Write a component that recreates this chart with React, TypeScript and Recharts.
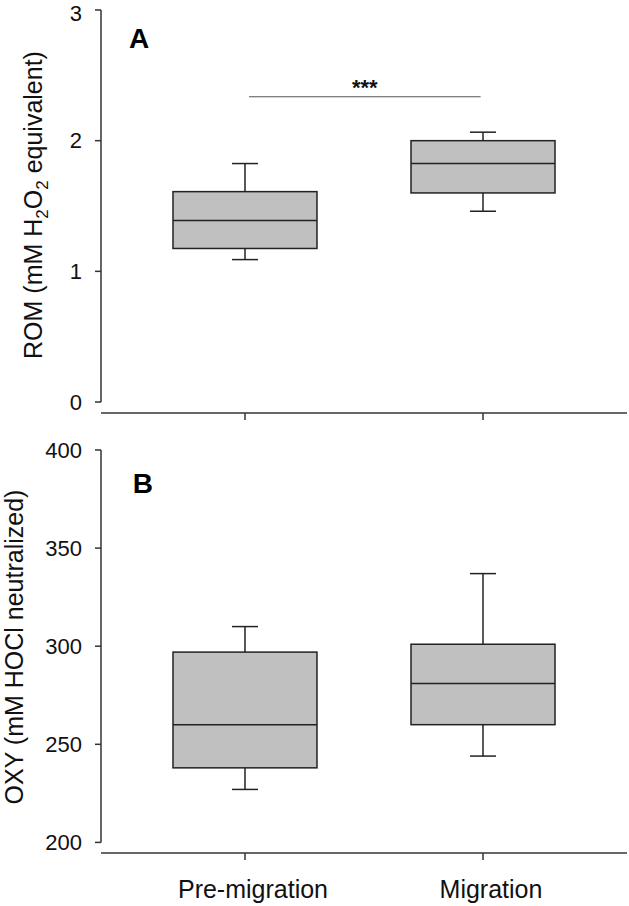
import { ComposedChart, Bar, XAxis, YAxis, ReferenceLine, ReferenceDot, Label } from "recharts"

// groups on a numeric x axis so the y-axis line can be drawn as a segment
const groups = ["Pre-migration", "Migration"]
const positions = [1, 2]
const xDomain: [number, number] = [0.395, 2.605]

// panel A: ROM
const romMin = [1.09, 1.46]
const romQ1 = [1.175, 1.6]
const romMedian = [1.39, 1.825]
const romQ3 = [1.61, 2.0]
const romMax = [1.825, 2.065]
const romTicks = [0, 1, 2, 3]

// panel B: OXY
const oxyMin = [227, 244]
const oxyQ1 = [238, 260]
const oxyMedian = [260, 281]
const oxyQ3 = [297, 301]
const oxyMax = [310, 337]
const oxyTicks = [200, 250, 300, 350, 400]

const sigLevel = 2.336

const AXIS = "#333"
const FONT = "'Liberation Sans', Arial, sans-serif"

function buildRows(min: number[], q1: number[], med: number[], q3: number[], max: number[]) {
  return groups.map((g, i) => ({
    pos: positions[i],
    name: g,
    range: [min[i], max[i]],
    q1: q1[i],
    median: med[i],
    q3: q3[i],
  }))
}

const romData = buildRows(romMin, romQ1, romMedian, romQ3, romMax)
const oxyData = buildRows(oxyMin, oxyQ1, oxyMedian, oxyQ3, oxyMax)

const BoxShape = (props: any) => {
  const { x, y, width, height, payload } = props
  const [lo, hi] = payload.range
  const yHi = y
  const yLo = y + height
  const toY = (v: number) => yLo + ((v - lo) / (hi - lo)) * (yHi - yLo)
  const cx = x + width / 2
  const half = 72
  const cap = 13
  const stroke = "#222"
  return (
    <g>
      <line x1={cx} x2={cx} y1={toY(hi)} y2={toY(payload.q3)} stroke={stroke} strokeWidth={1.5} />
      <line x1={cx} x2={cx} y1={toY(payload.q1)} y2={toY(lo)} stroke={stroke} strokeWidth={1.5} />
      <line x1={cx - cap} x2={cx + cap} y1={toY(hi)} y2={toY(hi)} stroke={stroke} strokeWidth={1.5} />
      <line x1={cx - cap} x2={cx + cap} y1={toY(lo)} y2={toY(lo)} stroke={stroke} strokeWidth={1.5} />
      <rect
        x={cx - half}
        y={toY(payload.q3)}
        width={half * 2}
        height={toY(payload.q1) - toY(payload.q3)}
        fill="#c0c0c0"
        stroke={stroke}
        strokeWidth={1.5}
      />
      <line x1={cx - half} x2={cx + half} y1={toY(payload.median)} y2={toY(payload.median)} stroke={stroke} strokeWidth={1.5} />
    </g>
  )
}

const RomTitle = () => (
  <text x={33} y={205} transform="rotate(-90, 33, 205)" textAnchor="middle" dy="0.35em" fontSize={25} fill="#111">
    ROM (mM H<tspan fontSize={17} dy="6">2</tspan>
    <tspan dy="-6">O</tspan>
    <tspan fontSize={17} dy="6">2</tspan>
    <tspan dy="-6"> equivalent)</tspan>
  </text>
)

// second chart has its own svg starting at page y=430
const OxyTitle = () => (
  <text x={14} y={217} transform="rotate(-90, 14, 217)" textAnchor="middle" dy="0.35em" fontSize={25} fill="#111">
    OXY (mM HOCl neutralized)
  </text>
)

export default function App() {
  return (
    <div style={{ position: "absolute", left: 0, top: 0, width: 629, height: 906, background: "#fff", fontFamily: FONT }}>
      <ComposedChart width={629} height={430} data={romData} margin={{ top: 10, right: 2, bottom: 0, left: 0 }}>
        <XAxis
          type="number"
          dataKey="pos"
          domain={xDomain}
          ticks={positions}
          tickFormatter={() => ""}
          height={17}
          tickSize={7}
          stroke={AXIS}
          strokeWidth={1.5}
          allowDataOverflow
        />
        <YAxis
          domain={[-0.084, 3]}
          ticks={romTicks}
          width={101}
          axisLine={false}
          tickSize={6}
          tickMargin={13}
          tickLine={{ stroke: AXIS, strokeWidth: 1.5 }}
          tick={{ fontSize: 22, fill: "#111" }}
          allowDataOverflow
        >
          <Label content={RomTitle} />
        </YAxis>
        <ReferenceLine
          segment={[{ x: xDomain[0], y: 0 }, { x: xDomain[0], y: 3 }]}
          stroke={AXIS}
          strokeWidth={1.5}
          ifOverflow="visible"
        />
        <ReferenceLine
          segment={[{ x: 1.017, y: sigLevel }, { x: 1.99, y: sigLevel }]}
          stroke="#555"
          strokeWidth={1.2}
          label={{ value: "***", position: "top", fontSize: 22, fontWeight: "bold", fill: "#111", offset: 2 }}
        />
        <ReferenceDot
          x={0.555}
          y={2.786}
          r={0}
          fill="none"
          stroke="none"
          label={{ value: "A", position: "center", fontSize: 28, fontWeight: "bold", fill: "#000" }}
        />
        <Bar dataKey="range" barSize={144} shape={BoxShape} isAnimationActive={false} />
      </ComposedChart>
      <ComposedChart width={629} height={476} data={oxyData} margin={{ top: 20, right: 2, bottom: 0, left: 0 }}>
        <XAxis
          type="number"
          dataKey="pos"
          domain={xDomain}
          ticks={positions}
          tickFormatter={(v: number) => groups[positions.indexOf(v)] ?? ""}
          height={53}
          tickSize={7}
          tickMargin={20}
          stroke={AXIS}
          strokeWidth={1.5}
          tick={{ fontSize: 25, fill: "#111", dx: 8 }}
          allowDataOverflow
        />
        <YAxis
          domain={[194.6, 400]}
          ticks={oxyTicks}
          width={101}
          axisLine={false}
          tickSize={6}
          tickMargin={13}
          tickLine={{ stroke: AXIS, strokeWidth: 1.5 }}
          tick={{ fontSize: 22, fill: "#111" }}
          allowDataOverflow
        >
          <Label content={OxyTitle} />
        </YAxis>
        <ReferenceLine
          segment={[{ x: xDomain[0], y: 200 }, { x: xDomain[0], y: 400 }]}
          stroke={AXIS}
          strokeWidth={1.5}
          ifOverflow="visible"
        />
        <ReferenceDot
          x={0.571}
          y={383.2}
          r={0}
          fill="none"
          stroke="none"
          label={{ value: "B", position: "center", fontSize: 28, fontWeight: "bold", fill: "#000" }}
        />
        <Bar dataKey="range" barSize={144} shape={BoxShape} isAnimationActive={false} />
      </ComposedChart>
    </div>
  )
}
